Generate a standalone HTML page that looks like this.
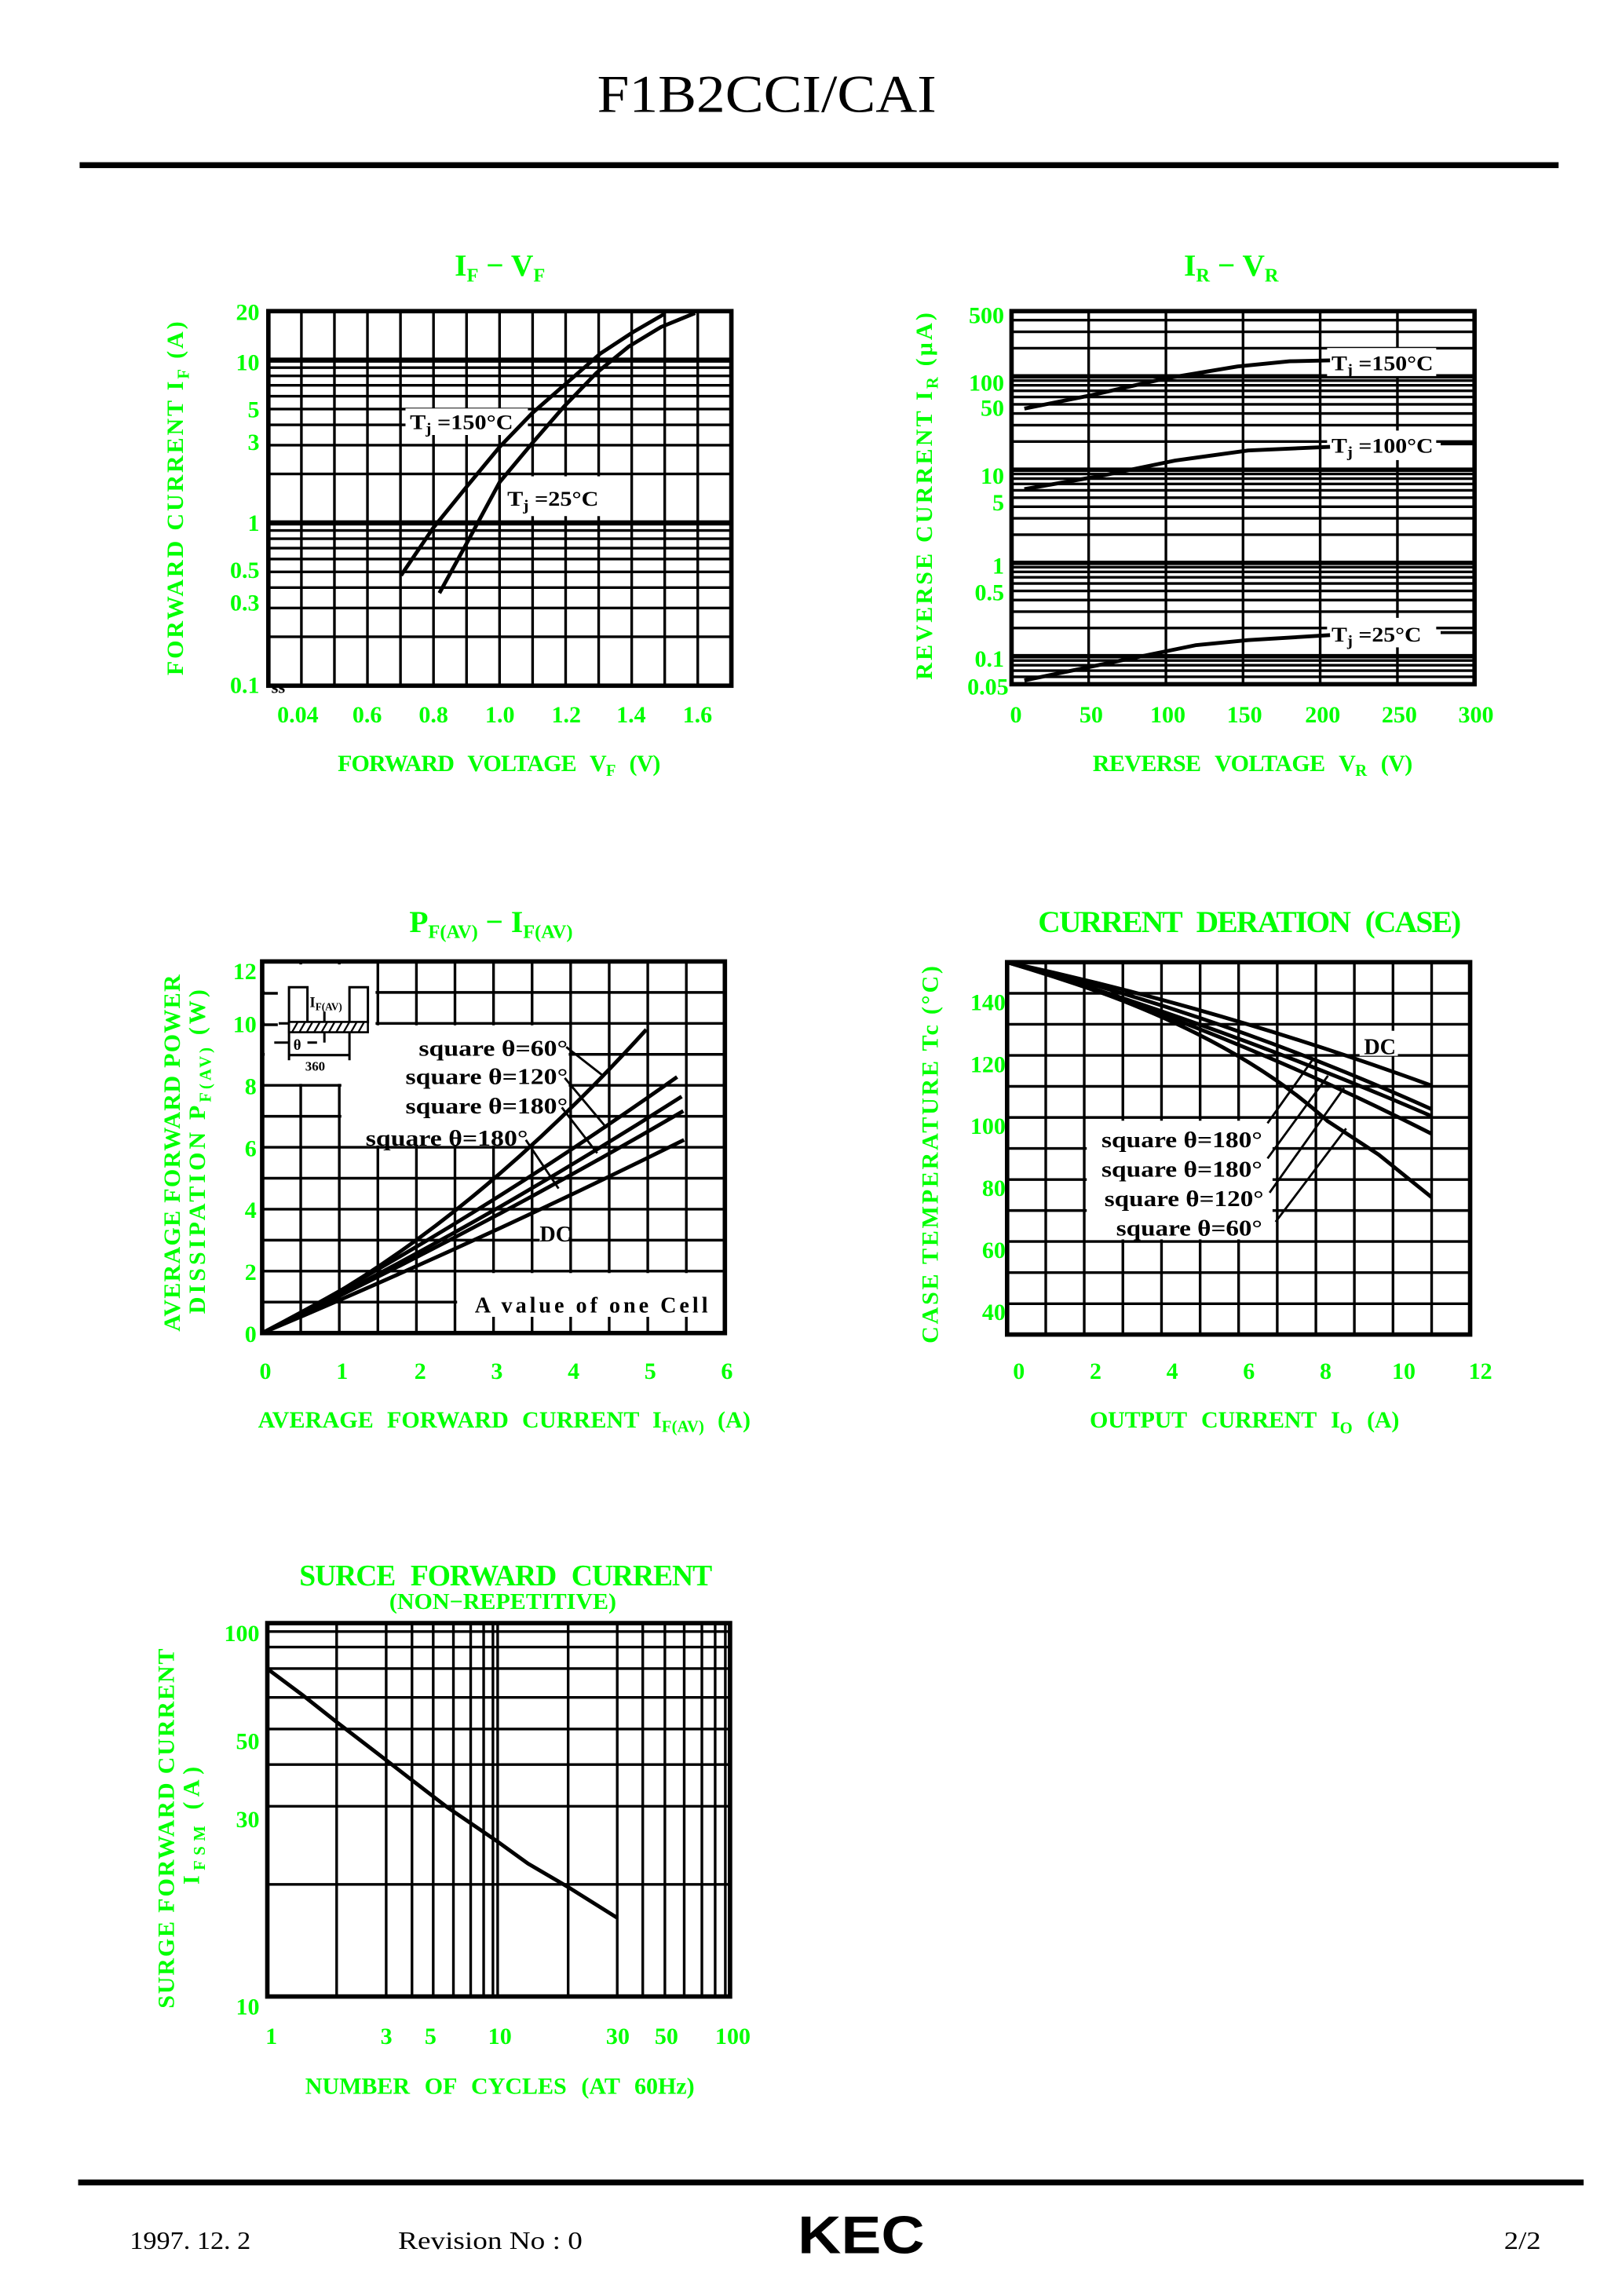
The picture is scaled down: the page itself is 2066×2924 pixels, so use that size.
<!DOCTYPE html>
<html><head><meta charset="utf-8"><style>
html,body{margin:0;padding:0;background:#fff;}
svg{display:block;}
.g{fill:#00ff00;font-family:"Liberation Serif",serif;font-weight:bold;}
.k{fill:#000;font-family:"Liberation Serif",serif;font-weight:bold;}
.grid line{stroke:#000;stroke-width:1.8;}
.c{fill:none;stroke:#000;stroke-width:2.6;}
</style></head><body>
<svg width="2066" height="2924" viewBox="0 0 1100 1557" preserveAspectRatio="none" xmlns="http://www.w3.org/2000/svg">
<rect width="1100" height="1557" fill="#fff"/>
<text x="520" y="76" font-family="Liberation Serif,serif" font-size="36" text-anchor="middle" textLength="230" lengthAdjust="spacingAndGlyphs">F1B2CCI/CAI</text>
<rect x="54" y="110" width="1003" height="4" fill="#000"/>

<!-- ===== Chart 1 IF-VF ===== -->
<g class="grid">
<line x1="182" y1="431.8" x2="496" y2="431.8"/><line x1="182" y1="412.3" x2="496" y2="412.3"/><line x1="182" y1="398.5" x2="496" y2="398.5"/><line x1="182" y1="387.8" x2="496" y2="387.8"/><line x1="182" y1="379.1" x2="496" y2="379.1"/><line x1="182" y1="371.7" x2="496" y2="371.7"/><line x1="182" y1="365.3" x2="496" y2="365.3"/><line x1="182" y1="359.7" x2="496" y2="359.7"/>
<line x1="182" y1="321.4" x2="496" y2="321.4"/><line x1="182" y1="301.9" x2="496" y2="301.9"/><line x1="182" y1="288.1" x2="496" y2="288.1"/><line x1="182" y1="277.4" x2="496" y2="277.4"/><line x1="182" y1="268.7" x2="496" y2="268.7"/><line x1="182" y1="261.3" x2="496" y2="261.3"/><line x1="182" y1="254.9" x2="496" y2="254.9"/><line x1="182" y1="249.3" x2="496" y2="249.3"/>
<line x1="182" y1="354.6" x2="496" y2="354.6" style="stroke-width:3.5"/><line x1="182" y1="244.2" x2="496" y2="244.2" style="stroke-width:3.5"/>
<line x1="204.4" y1="211" x2="204.4" y2="465"/><line x1="226.8" y1="211" x2="226.8" y2="465"/><line x1="249.2" y1="211" x2="249.2" y2="465"/><line x1="271.6" y1="211" x2="271.6" y2="465"/><line x1="294" y1="211" x2="294" y2="465"/><line x1="316.4" y1="211" x2="316.4" y2="465"/><line x1="338.8" y1="211" x2="338.8" y2="465"/><line x1="361.2" y1="211" x2="361.2" y2="465"/><line x1="383.6" y1="211" x2="383.6" y2="465"/><line x1="406" y1="211" x2="406" y2="465"/><line x1="428.4" y1="211" x2="428.4" y2="465"/><line x1="450.8" y1="211" x2="450.8" y2="465"/><line x1="473.2" y1="211" x2="473.2" y2="465"/>
</g>
<rect x="182" y="211" width="314" height="254" fill="none" stroke="#000" stroke-width="3"/>
<rect x="275" y="277" width="83" height="18" fill="#fff"/>
<rect x="342" y="323" width="76" height="27" fill="#fff"/>
<path class="c" d="M272,390.2 L293.8,358 L317.1,329.3 L338.9,303 L360.8,280.3 L382.6,261.2 L407.2,239.7 L429,225.4 L450.9,212.7"/>
<path class="c" d="M298,402.2 L315.7,369.9 L338.9,326.9 L360.8,300.7 L382.6,275.6 L404.5,252.9 L426.4,235 L448.2,221.8 L471.4,212.3"/>
<text class="k" x="278" y="291" font-size="14" textLength="70" lengthAdjust="spacingAndGlyphs">T<tspan font-size="10" dy="3">j</tspan><tspan dy="-3"> =150°C</tspan></text>
<text class="k" x="344" y="343" font-size="14" textLength="62" lengthAdjust="spacingAndGlyphs">T<tspan font-size="10" dy="3">j</tspan><tspan dy="-3"> =25°C</tspan></text>
<text class="k" x="184" y="470" font-size="12">ss</text>
<text class="g" x="339" y="187" font-size="21" text-anchor="middle">I<tspan font-size="13" dy="4">F</tspan><tspan dy="-4">  −  V</tspan><tspan font-size="13" dy="4">F</tspan></text>
<g class="g" font-size="16" text-anchor="end">
<text x="176" y="217">20</text><text x="176" y="251">10</text><text x="176" y="283">5</text><text x="176" y="305">3</text><text x="176" y="360">1</text><text x="176" y="392">0.5</text><text x="176" y="414">0.3</text><text x="176" y="470">0.1</text>
</g>
<g class="g" font-size="16" text-anchor="middle">
<text x="202" y="490">0.04</text><text x="249" y="490">0.6</text><text x="294" y="490">0.8</text><text x="339" y="490">1.0</text><text x="384" y="490">1.2</text><text x="428" y="490">1.4</text><text x="473" y="490">1.6</text>
</g>
<text class="g" x="229" y="523" font-size="16" textLength="219" lengthAdjust="spacing" word-spacing="6">FORWARD VOLTAGE V<tspan font-size="11" dy="3">F</tspan><tspan dy="-3"> (V)</tspan></text>
<text class="g" transform="translate(124,458) rotate(-90)" x="0" y="0" font-size="16" textLength="240" lengthAdjust="spacing">FORWARD  CURRENT  I<tspan font-size="11" dy="4">F</tspan><tspan dy="-4">  (A)</tspan></text>

<!-- ===== Chart 2 IR-VR ===== -->
<g class="grid">
<line x1="686" y1="459" x2="1000" y2="459"/><line x1="686" y1="454.8" x2="1000" y2="454.8"/><line x1="686" y1="451.1" x2="1000" y2="451.1"/><line x1="686" y1="447.9" x2="1000" y2="447.9"/>
<line x1="686" y1="425.9" x2="1000" y2="425.9"/><line x1="686" y1="414.8" x2="1000" y2="414.8"/><line x1="686" y1="406.9" x2="1000" y2="406.9"/><line x1="686" y1="400.75" x2="1000" y2="400.75"/><line x1="686" y1="395.7" x2="1000" y2="395.7"/><line x1="686" y1="391.5" x2="1000" y2="391.5"/><line x1="686" y1="387.8" x2="1000" y2="387.8"/><line x1="686" y1="384.6" x2="1000" y2="384.6"/>
<line x1="686" y1="362.6" x2="1000" y2="362.6"/><line x1="686" y1="351.5" x2="1000" y2="351.5"/><line x1="686" y1="343.6" x2="1000" y2="343.6"/><line x1="686" y1="337.5" x2="1000" y2="337.5"/><line x1="686" y1="332.5" x2="1000" y2="332.5"/><line x1="686" y1="328.2" x2="1000" y2="328.2"/><line x1="686" y1="324.6" x2="1000" y2="324.6"/><line x1="686" y1="321.4" x2="1000" y2="321.4"/>
<line x1="686" y1="299.4" x2="1000" y2="299.4"/><line x1="686" y1="288.3" x2="1000" y2="288.3"/><line x1="686" y1="280.4" x2="1000" y2="280.4"/><line x1="686" y1="274.2" x2="1000" y2="274.2"/><line x1="686" y1="269.2" x2="1000" y2="269.2"/><line x1="686" y1="265" x2="1000" y2="265"/><line x1="686" y1="261.3" x2="1000" y2="261.3"/><line x1="686" y1="258.1" x2="1000" y2="258.1"/>
<line x1="686" y1="236.1" x2="1000" y2="236.1"/><line x1="686" y1="225" x2="1000" y2="225"/><line x1="686" y1="217.1" x2="1000" y2="217.1"/>
<line x1="686" y1="445" x2="1000" y2="445" style="stroke-width:3"/><line x1="686" y1="381.7" x2="1000" y2="381.7" style="stroke-width:3"/><line x1="686" y1="318.5" x2="1000" y2="318.5" style="stroke-width:3"/><line x1="686" y1="255.2" x2="1000" y2="255.2" style="stroke-width:3"/>
<line x1="738.3" y1="211" x2="738.3" y2="464"/><line x1="790.7" y1="211" x2="790.7" y2="464"/><line x1="843" y1="211" x2="843" y2="464"/><line x1="895.3" y1="211" x2="895.3" y2="464"/><line x1="947.7" y1="211" x2="947.7" y2="464"/>
</g>
<rect x="686" y="211" width="314" height="253" fill="none" stroke="#000" stroke-width="3"/>
<rect x="900" y="236" width="74" height="19" fill="#fff"/>
<rect x="900" y="292" width="74" height="20" fill="#fff"/>
<rect x="900" y="419" width="74" height="20" fill="#fff"/>
<path class="c" d="M694.7,277.1 L740.6,267.9 L790,256.7 L839.3,248.5 L874.6,245 L902,244.4"/>
<path class="c" d="M694.7,331.7 L747.6,322.5 L797,312.3 L846.4,305.5 L902,303"/>
<path class="c" d="M694.7,461.4 L747.6,450.5 L811,437.5 L846.4,434.1 L902,430.7"/>
<line x1="977" y1="301" x2="999" y2="301" stroke="#000" stroke-width="2"/>
<line x1="977" y1="429" x2="999" y2="429" stroke="#000" stroke-width="2"/>
<text class="k" x="903" y="251" font-size="14" textLength="69" lengthAdjust="spacingAndGlyphs">T<tspan font-size="10" dy="3">j</tspan><tspan dy="-3"> =150°C</tspan></text>
<text class="k" x="903" y="307" font-size="14" textLength="69" lengthAdjust="spacingAndGlyphs">T<tspan font-size="10" dy="3">j</tspan><tspan dy="-3"> =100°C</tspan></text>
<text class="k" x="903" y="435" font-size="14" textLength="61" lengthAdjust="spacingAndGlyphs">T<tspan font-size="10" dy="3">j</tspan><tspan dy="-3"> =25°C</tspan></text>
<text class="g" x="835" y="187" font-size="21" text-anchor="middle">I<tspan font-size="13" dy="4">R</tspan><tspan dy="-4">  −  V</tspan><tspan font-size="13" dy="4">R</tspan></text>
<g class="g" font-size="16" text-anchor="end">
<text x="681" y="219">500</text><text x="681" y="265">100</text><text x="681" y="282">50</text><text x="681" y="328">10</text><text x="681" y="346">5</text><text x="681" y="389">1</text><text x="681" y="407">0.5</text><text x="681" y="452">0.1</text><text x="684" y="471">0.05</text>
</g>
<g class="g" font-size="16" text-anchor="middle">
<text x="689" y="490">0</text><text x="740" y="490">50</text><text x="792" y="490">100</text><text x="844" y="490">150</text><text x="897" y="490">200</text><text x="949" y="490">250</text><text x="1001" y="490">300</text>
</g>
<text class="g" x="741" y="523" font-size="16" textLength="217" lengthAdjust="spacing" word-spacing="6">REVERSE VOLTAGE V<tspan font-size="11" dy="3">R</tspan><tspan dy="-3"> (V)</tspan></text>
<text class="g" transform="translate(632,461) rotate(-90)" x="0" y="0" font-size="16" textLength="249" lengthAdjust="spacing">REVERSE  CURRENT  I<tspan font-size="11" dy="4">R</tspan><tspan dy="-4">  (μA)</tspan></text>

<!-- ===== Chart 3 PF(AV)-IF(AV) ===== -->
<g class="grid">
<line x1="177.8" y1="883" x2="491.6" y2="883"/><line x1="177.8" y1="862" x2="491.6" y2="862"/><line x1="177.8" y1="841" x2="491.6" y2="841"/><line x1="177.8" y1="820" x2="491.6" y2="820"/><line x1="177.8" y1="799" x2="491.6" y2="799"/><line x1="177.8" y1="778" x2="491.6" y2="778"/><line x1="177.8" y1="757" x2="491.6" y2="757"/><line x1="177.8" y1="736" x2="491.6" y2="736"/><line x1="177.8" y1="715" x2="491.6" y2="715"/><line x1="177.8" y1="694" x2="491.6" y2="694"/><line x1="177.8" y1="673" x2="491.6" y2="673"/>
<line x1="203.95" y1="652" x2="203.95" y2="904"/><line x1="230.1" y1="652" x2="230.1" y2="904"/><line x1="256.25" y1="652" x2="256.25" y2="904"/><line x1="282.4" y1="652" x2="282.4" y2="904"/><line x1="308.55" y1="652" x2="308.55" y2="904"/><line x1="334.7" y1="652" x2="334.7" y2="904"/><line x1="360.85" y1="652" x2="360.85" y2="904"/><line x1="387" y1="652" x2="387" y2="904"/><line x1="413.15" y1="652" x2="413.15" y2="904"/><line x1="439.3" y1="652" x2="439.3" y2="904"/><line x1="465.45" y1="652" x2="465.45" y2="904"/>
</g>
<rect x="179.5" y="654" width="75.2" height="81" fill="#fff"/>
<rect x="231.5" y="695.3" width="154.2" height="81.5" fill="#fff"/>
<rect x="310" y="863.3" width="180.5" height="39.5" fill="#fff"/>
<g stroke="#000" stroke-width="1.8">
<line x1="334.7" y1="893" x2="334.7" y2="904"/><line x1="360.85" y1="893" x2="360.85" y2="904"/><line x1="387" y1="893" x2="387" y2="904"/><line x1="413.15" y1="893" x2="413.15" y2="904"/><line x1="439.3" y1="893" x2="439.3" y2="904"/><line x1="465.45" y1="893" x2="465.45" y2="904"/>
<line x1="177.8" y1="673.6" x2="188.4" y2="673.6"/><line x1="177.8" y1="694.9" x2="188.4" y2="694.9"/>
</g>
<rect x="177.8" y="652" width="313.8" height="252" fill="none" stroke="#000" stroke-width="3"/>
<!-- inset waveform -->
<g fill="none" stroke="#000" stroke-width="1.6">
<path d="M189,694 H196 V669.5 H208.5 V694 H237 V669.5 H249.5 V694"/>
<line x1="196" y1="694" x2="196" y2="719"/><line x1="237" y1="694" x2="237" y2="719"/>
<line x1="196" y1="715.5" x2="237" y2="715.5"/>
<line x1="186" y1="707" x2="196" y2="707"/><line x1="208.5" y1="707" x2="215" y2="707"/>
<line x1="220" y1="686" x2="220" y2="694"/><line x1="220" y1="700" x2="220" y2="707"/>
</g>
<rect x="196" y="693" width="53.5" height="7" fill="#fff" stroke="#000" stroke-width="1.4"/>
<g stroke="#000" stroke-width="1.2"><line x1="198" y1="700" x2="202" y2="693"/><line x1="203" y1="700" x2="207" y2="693"/><line x1="208" y1="700" x2="212" y2="693"/><line x1="213" y1="700" x2="217" y2="693"/><line x1="218" y1="700" x2="222" y2="693"/><line x1="223" y1="700" x2="227" y2="693"/><line x1="228" y1="700" x2="232" y2="693"/><line x1="233" y1="700" x2="237" y2="693"/><line x1="238" y1="700" x2="242" y2="693"/><line x1="243" y1="700" x2="247" y2="693"/></g>
<text class="k" x="210" y="683" font-size="10">I<tspan font-size="7" dy="2">F(AV)</tspan></text>
<text class="k" x="199" y="712" font-size="10">θ</text>
<text class="k" x="207" y="726" font-size="9">360</text>
<path class="c" d="M177.8,904 Q308,841.8 438.3,698.2"/>
<path class="c" d="M177.8,904 Q318.5,830.1 459.2,730.3"/>
<path class="c" d="M177.8,904 Q320.1,834.5 462.3,743.6"/>
<path class="c" d="M177.8,904 Q320.6,836.8 463.4,753.4"/>
<path class="c" d="M177.8,904 Q320.8,844 463.9,773"/>
<g stroke="#000" stroke-width="1.5" fill="none">
<line x1="384" y1="710" x2="409" y2="729.5"/><line x1="383" y1="731" x2="411.5" y2="765"/><line x1="381" y1="751" x2="405" y2="782"/><line x1="356.6" y1="773" x2="378.8" y2="806"/>
</g>
<rect x="366" y="826" width="20" height="17" fill="#fff"/>
<text class="k" x="366" y="842" font-size="15">DC</text>
<g class="k" font-size="15">
<text x="284" y="716" textLength="101" lengthAdjust="spacingAndGlyphs">square θ=60°</text>
<text x="275" y="735" textLength="110" lengthAdjust="spacingAndGlyphs">square θ=120°</text>
<text x="275" y="755" textLength="110" lengthAdjust="spacingAndGlyphs">square θ=180°</text>
<text x="248" y="777" textLength="110" lengthAdjust="spacingAndGlyphs">square θ=180°</text>
<text x="322" y="890" textLength="158" lengthAdjust="spacing">A  value  of  one  Cell</text>
</g>
<text class="g" x="333" y="632" font-size="21" text-anchor="middle">P<tspan font-size="13" dy="4">F(AV)</tspan><tspan dy="-4">  −  I</tspan><tspan font-size="13" dy="4">F(AV)</tspan></text>
<g class="g" font-size="16" text-anchor="end">
<text x="174" y="910">0</text><text x="174" y="868">2</text><text x="174" y="826">4</text><text x="174" y="784">6</text><text x="174" y="742">8</text><text x="174" y="700">10</text><text x="174" y="664">12</text>
</g>
<g class="g" font-size="16" text-anchor="middle">
<text x="180" y="935">0</text><text x="232" y="935">1</text><text x="285" y="935">2</text><text x="337" y="935">3</text><text x="389" y="935">4</text><text x="441" y="935">5</text><text x="493" y="935">6</text>
</g>
<text class="g" x="175" y="968" font-size="16" textLength="334" lengthAdjust="spacing" word-spacing="5">AVERAGE FORWARD CURRENT I<tspan font-size="11" dy="3">F(AV)</tspan><tspan dy="-3"> (A)</tspan></text>
<text class="g" transform="translate(122,903) rotate(-90)" x="0" y="0" font-size="16" textLength="242" lengthAdjust="spacing">AVERAGE  FORWARD  POWER</text>
<text class="g" transform="translate(139,891) rotate(-90)" x="0" y="0" font-size="16" textLength="220" lengthAdjust="spacing">DISSIPATION  P<tspan font-size="11" dy="4">F(AV)</tspan><tspan dy="-4">  (W)</tspan></text>

<!-- ===== Chart 4 Current deration ===== -->
<g class="grid">
<line x1="709.2" y1="652.5" x2="709.2" y2="905"/><line x1="735.3" y1="652.5" x2="735.3" y2="905"/><line x1="761.5" y1="652.5" x2="761.5" y2="905"/><line x1="787.7" y1="652.5" x2="787.7" y2="905"/><line x1="813.9" y1="652.5" x2="813.9" y2="905"/><line x1="840" y1="652.5" x2="840" y2="905"/><line x1="866.2" y1="652.5" x2="866.2" y2="905"/><line x1="892.4" y1="652.5" x2="892.4" y2="905"/><line x1="918.5" y1="652.5" x2="918.5" y2="905"/><line x1="944.7" y1="652.5" x2="944.7" y2="905"/><line x1="970.9" y1="652.5" x2="970.9" y2="905"/>
<line x1="683" y1="673.6" x2="997" y2="673.6"/><line x1="683" y1="694.6" x2="997" y2="694.6"/><line x1="683" y1="715.7" x2="997" y2="715.7"/><line x1="683" y1="736.7" x2="997" y2="736.7"/><line x1="683" y1="757.8" x2="997" y2="757.8"/><line x1="683" y1="778.8" x2="997" y2="778.8"/><line x1="683" y1="799.9" x2="997" y2="799.9"/><line x1="683" y1="820.9" x2="997" y2="820.9"/><line x1="683" y1="841.9" x2="997" y2="841.9"/><line x1="683" y1="863" x2="997" y2="863"/><line x1="683" y1="884.1" x2="997" y2="884.1"/>
</g>
<rect x="737" y="760" width="126" height="80.5" fill="#fff"/>
<rect x="683" y="652.5" width="314" height="252.5" fill="none" stroke="#000" stroke-width="3"/>
<rect x="922" y="699" width="26" height="17" fill="#fff"/>
<path class="c" d="M683,652.5 Q826.9,683.5 970.9,736.2"/>
<path class="c" d="M683,652.5 Q826.9,687.3 970.9,752.2"/>
<path class="c" d="M683,652.5 Q826.9,694.5 970.9,756.9"/>
<path class="c" d="M683,652.5 Q826.9,695.7 970.9,768.9"/>
<path class="c" d="M683,652.5 Q826.9,693.2 900,760 L935,783 L970.9,811.9"/>
<g stroke="#000" stroke-width="1.5">
<line x1="859.6" y1="761.7" x2="891" y2="717.5"/><line x1="859.6" y1="785.6" x2="900.6" y2="729.5"/><line x1="861" y1="808.8" x2="911.5" y2="737.8"/><line x1="865.1" y1="828.6" x2="912.9" y2="765.3"/>
</g>
<text class="k" x="925" y="715" font-size="15">DC</text>
<g class="k" font-size="15">
<text x="747" y="778" textLength="109" lengthAdjust="spacingAndGlyphs">square θ=180°</text>
<text x="747" y="798" textLength="109" lengthAdjust="spacingAndGlyphs">square θ=180°</text>
<text x="749" y="818" textLength="108" lengthAdjust="spacingAndGlyphs">square θ=120°</text>
<text x="757" y="838" textLength="99" lengthAdjust="spacingAndGlyphs">square θ=60°</text>
</g>
<text class="g" x="704" y="632" font-size="21" textLength="287" lengthAdjust="spacing" word-spacing="6">CURRENT DERATION (CASE)</text>
<g class="g" font-size="16" text-anchor="end">
<text x="682" y="685">140</text><text x="682" y="727">120</text><text x="682" y="769">100</text><text x="682" y="811">80</text><text x="682" y="853">60</text><text x="682" y="895">40</text>
</g>
<g class="g" font-size="16" text-anchor="middle">
<text x="691" y="935">0</text><text x="743" y="935">2</text><text x="795" y="935">4</text><text x="847" y="935">6</text><text x="899" y="935">8</text><text x="952" y="935">10</text><text x="1004" y="935">12</text>
</g>
<text class="g" x="739" y="968" font-size="16" textLength="210" lengthAdjust="spacing" word-spacing="6">OUTPUT CURRENT I<tspan font-size="11" dy="4">O</tspan><tspan dy="-4"> (A)</tspan></text>
<text class="g" transform="translate(636,911) rotate(-90)" x="0" y="0" font-size="16" textLength="256" lengthAdjust="spacing">CASE  TEMPERATURE  Tc  (°C)</text>

<!-- ===== Chart 5 Surge ===== -->
<g class="grid">
<line x1="181.3" y1="1106.4" x2="495.1" y2="1106.4"/><line x1="181.3" y1="1116.9" x2="495.1" y2="1116.9"/><line x1="181.3" y1="1131.5" x2="495.1" y2="1131.5"/><line x1="181.3" y1="1151.1" x2="495.1" y2="1151.1"/><line x1="181.3" y1="1172.5" x2="495.1" y2="1172.5"/><line x1="181.3" y1="1196.6" x2="495.1" y2="1196.6"/><line x1="181.3" y1="1224.9" x2="495.1" y2="1224.9"/><line x1="181.3" y1="1277.9" x2="495.1" y2="1277.9"/>
<line x1="228.3" y1="1100.7" x2="228.3" y2="1353.9"/><line x1="261.9" y1="1100.7" x2="261.9" y2="1353.9"/><line x1="279.4" y1="1100.7" x2="279.4" y2="1353.9"/><line x1="293.8" y1="1100.7" x2="293.8" y2="1353.9"/><line x1="307.5" y1="1100.7" x2="307.5" y2="1353.9"/><line x1="319.2" y1="1100.7" x2="319.2" y2="1353.9"/><line x1="328" y1="1100.7" x2="328" y2="1353.9"/><line x1="334.3" y1="1100.7" x2="334.3" y2="1353.9"/><line x1="337.5" y1="1100.7" x2="337.5" y2="1353.9"/><line x1="385.3" y1="1100.7" x2="385.3" y2="1353.9"/><line x1="418.6" y1="1100.7" x2="418.6" y2="1353.9"/><line x1="435.9" y1="1100.7" x2="435.9" y2="1353.9"/><line x1="450.9" y1="1100.7" x2="450.9" y2="1353.9"/><line x1="464" y1="1100.7" x2="464" y2="1353.9"/><line x1="476" y1="1100.7" x2="476" y2="1353.9"/><line x1="485" y1="1100.7" x2="485" y2="1353.9"/><line x1="491.9" y1="1100.7" x2="491.9" y2="1353.9"/>
</g>
<rect x="181.3" y="1100.7" width="313.8" height="253.2" fill="none" stroke="#000" stroke-width="3"/>
<path class="c" d="M182.7,1132.7 L205.1,1149.4 L228.3,1167.8 L261.9,1193.6 L279.4,1207.2 L303.4,1225.6 L337.5,1248.9 L358,1263.7 L385.3,1279.7 L418.6,1300.6"/>
<text class="g" x="203" y="1075" font-size="20" textLength="280" lengthAdjust="spacing" word-spacing="6">SURCE FORWARD CURRENT</text>
<text class="g" x="341" y="1091" font-size="15" text-anchor="middle" textLength="154" lengthAdjust="spacingAndGlyphs">(NON−REPETITIVE)</text>
<g class="g" font-size="16" text-anchor="end">
<text x="176" y="1113">100</text><text x="176" y="1186">50</text><text x="176" y="1239">30</text><text x="176" y="1366">10</text>
</g>
<g class="g" font-size="16" text-anchor="middle">
<text x="184" y="1386">1</text><text x="262" y="1386">3</text><text x="292" y="1386">5</text><text x="339" y="1386">10</text><text x="419" y="1386">30</text><text x="452" y="1386">50</text><text x="497" y="1386">100</text>
</g>
<text class="g" x="207" y="1420" font-size="16" textLength="264" lengthAdjust="spacing" word-spacing="6">NUMBER OF CYCLES (AT 60Hz)</text>
<text class="g" transform="translate(118,1362) rotate(-90)" x="0" y="0" font-size="16" textLength="244" lengthAdjust="spacing">SURGE  FORWARD  CURRENT</text>
<text class="g" transform="translate(135,1278) rotate(-90)" x="0" y="0" font-size="16" textLength="80" lengthAdjust="spacing">I<tspan font-size="11" dy="4">FSM</tspan><tspan dy="-4"> (A)</tspan></text>

<!-- ===== Footer ===== -->
<rect x="53" y="1478" width="1021" height="4" fill="#000"/>
<g font-family="Liberation Serif,serif" font-size="17">
<text x="88" y="1525" textLength="82" lengthAdjust="spacingAndGlyphs">1997. 12. 2</text>
<text x="270" y="1525" textLength="125" lengthAdjust="spacingAndGlyphs">Revision No : 0</text>
<text x="1020" y="1525" textLength="25" lengthAdjust="spacingAndGlyphs">2/2</text>
</g>
<text x="584" y="1528" font-family="Liberation Sans,sans-serif" font-weight="bold" font-size="36" text-anchor="middle" textLength="86" lengthAdjust="spacingAndGlyphs">KEC</text>
</svg>
</body></html>
